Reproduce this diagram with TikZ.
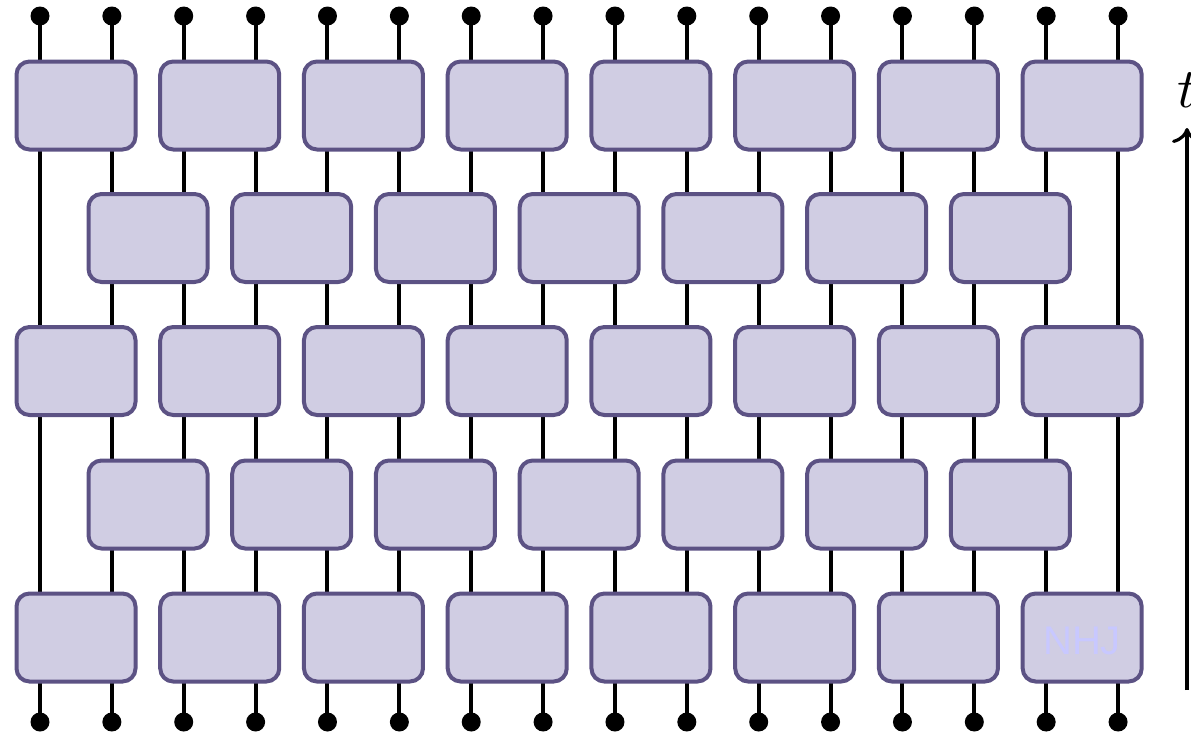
\documentclass[tikz,border=0pt]{standalone}
\usepackage{fontspec}
\usetikzlibrary{arrows.meta}
\newfontfamily\nhjfont{Liberation Sans}
\definecolor{gatefill}{RGB}{208,205,227}
\definecolor{gateedge}{RGB}{92,82,132}
\definecolor{marktext}{RGB}{200,200,255}
\tikzset{
  gate/.style={draw=gateedge, fill=gatefill, line width=4pt, rounded corners=13pt,
    minimum width=119pt, minimum height=88pt, inner sep=0pt},
  wire/.style={line width=4pt, black},
  dotend/.style={circle, fill=black, inner sep=0pt, minimum size=19pt},
}
\begin{document}
\begin{tikzpicture}[x=1pt,y=-1pt]
\useasboundingbox (0,0) rectangle (1191,737);
% endpoint dots
\foreach \i in {1,...,16}{
  \pgfmathsetmacro{\xx}{40+(\i-1)*71.87}
  \coordinate (T\i) at (\xx,16);
  \coordinate (B\i) at (\xx,722);
}
% wires
\foreach \i in {1,...,16}{
  \draw[wire] (B\i) -- (T\i);
}
\foreach \i in {1,...,16}{
  \node[dotend] (dT\i) at (T\i) {};
  \node[dotend] (dB\i) at (B\i) {};
}
% gates
\foreach \r/\yy in {1/105.5,3/371,5/637.5}{
  \foreach \k in {0,...,7}{
    \node[gate] (g\r-\k) at ({76+\k*143.74},\yy) {};
  }
}
\foreach \r/\yy in {2/238,4/504.5}{
  \foreach \k in {0,...,6}{
    \node[gate] (g\r-\k) at ({148+\k*143.74},\yy) {};
  }
}
\node[text=marktext, font=\nhjfont\fontsize{40}{44}\selectfont] (nhj) at (1082,641) {NHJ};
% time arrow
\coordinate (tb) at (1187,690);
\coordinate (tt) at (1187,128);
\draw[line width=3.4pt, -{Computer Modern Rightarrow[length=15pt,width=30pt,line width=3.2pt]}] (tb) -- (tt);
\node[scale=5.6, inner sep=0pt] (tlabel) at (1188,90) {$t$};
\end{tikzpicture}
\end{document}
